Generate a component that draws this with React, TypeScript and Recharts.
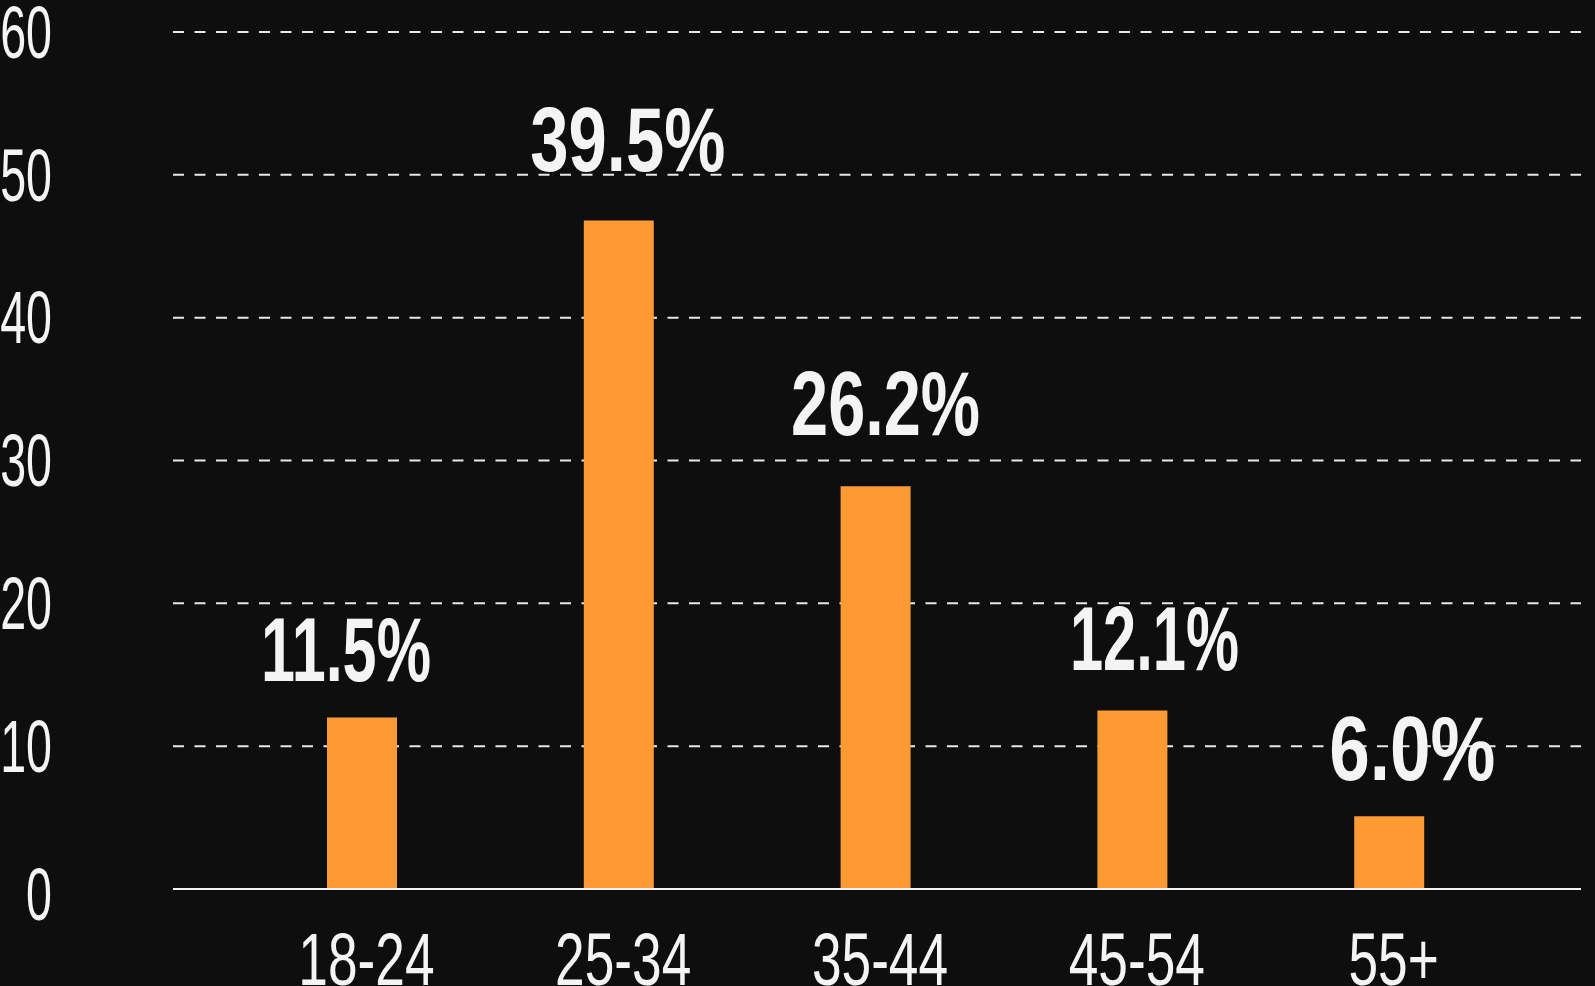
import React from "react";
import { BarChart, Bar, XAxis, YAxis, CartesianGrid } from "recharts";

const ageGroups = ["18-24", "25-34", "35-44", "45-54", "55+"];
// bar heights as drawn (they don't match the printed labels in the source)
const barValues = [12.0, 46.8, 28.2, 12.5, 5.1];
const shareLabels = ["11.5%", "39.5%", "26.2%", "12.1%", "6.0%"];
const yTicks = [0, 10, 20, 30, 40, 50, 60];

// label placement tweaks, per bar: lift above bar top, x nudge, rendered width
const labelLift = [37, 50, 51, 40, 36];
const labelShift = [-16, 9, 10, 22, 23];
const labelWidth = [170, 195, 189, 169, 166];

const BG = "#0e0e0e";
const ORANGE = "#fd9a33";
const WHITE = "#f4f4f4";
const NARROW = "'Liberation Sans Narrow', 'Liberation Sans', sans-serif";

const data = ageGroups.map((g, i) => ({ group: g, value: barValues[i] }));

function YTick(props: any) {
  const { y, payload } = props;
  const dy = payload.value === 0 ? 5 : 0;
  return (
    <text
      transform={`translate(52,${y + dy}) scale(0.63,1)`}
      textAnchor="end"
      dominantBaseline="central"
      fill={WHITE}
      fontFamily={NARROW}
      fontSize={74}
    >
      {payload.value}
    </text>
  );
}

function XTick(props: any) {
  const { x, payload } = props;
  return (
    <text
      transform={`translate(${x + 4},985) scale(0.72,1)`}
      textAnchor="middle"
      fill={WHITE}
      fontFamily={NARROW}
      fontSize={74}
    >
      {payload.value}
    </text>
  );
}

function ShareLabel(props: any) {
  const { x, y, width, index } = props;
  const cx = x + width / 2 + labelShift[index];
  return (
    <text
      x={cx}
      y={y - labelLift[index]}
      textAnchor="middle"
      textLength={labelWidth[index]}
      lengthAdjust="spacingAndGlyphs"
      fill={WHITE}
      fontFamily={NARROW}
      fontWeight="bold"
      fontSize={91}
    >
      {shareLabels[index]}
    </text>
  );
}

export default function App() {
  return (
    <div
      style={{
        position: "absolute",
        left: 0,
        top: 0,
        width: 1595,
        height: 986,
        background: BG,
        overflow: "hidden",
      }}
    >
      <BarChart
        width={1595}
        height={986}
        data={data}
        margin={{ top: 32, right: 14, left: 0, bottom: 0 }}
      >
        <CartesianGrid
          horizontal
          vertical={false}
          stroke="#e8e8e8"
          strokeWidth={2}
          strokeDasharray="11 10.5"
        />
        <XAxis
          dataKey="group"
          padding={{ left: 61, right: 63 }}
          axisLine={{ stroke: WHITE, strokeWidth: 2 }}
          tickLine={false}
          tick={<XTick />}
          interval={0}
          height={97}
        />
        <YAxis
          domain={[0, 60]}
          ticks={yTicks}
          width={173}
          axisLine={false}
          tickLine={false}
          tick={<YTick />}
          interval={0}
        />
        <Bar
          dataKey="value"
          fill={ORANGE}
          barSize={70}
          isAnimationActive={false}
          label={<ShareLabel />}
        />
      </BarChart>
    </div>
  );
}
